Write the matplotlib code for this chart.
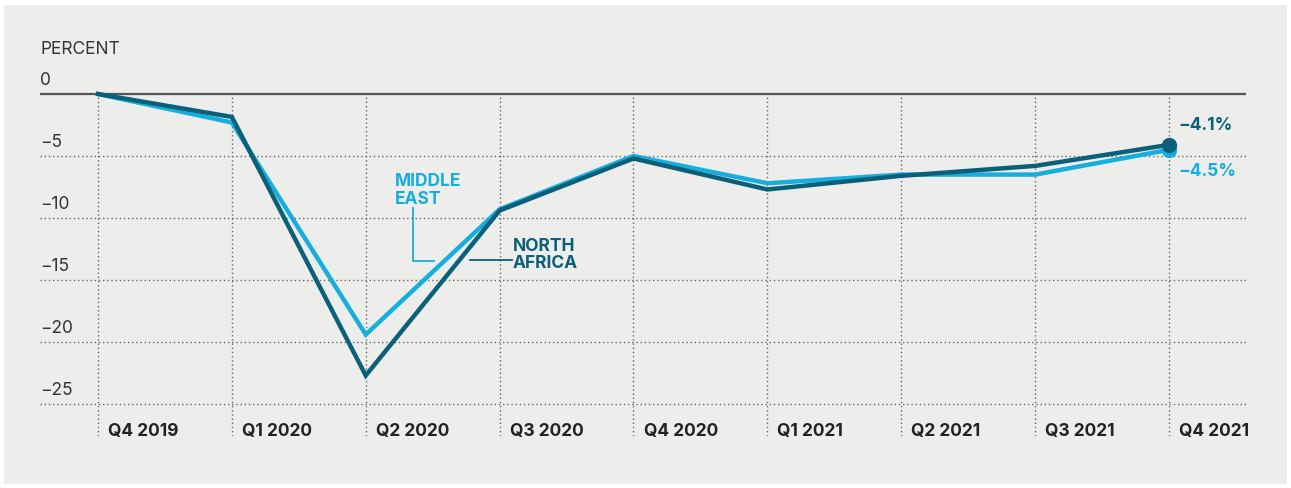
import matplotlib.pyplot as plt
from matplotlib.patches import Rectangle
from matplotlib.transforms import blended_transform_factory

plt.rcParams['font.family'] = ['Inter', 'DejaVu Sans']

# data
quarters = ['Q4 2019', 'Q1 2020', 'Q2 2020', 'Q3 2020', 'Q4 2020',
            'Q1 2021', 'Q2 2021', 'Q3 2021', 'Q4 2021']
north_africa = [0, -1.85, -22.7, -9.4, -5.2, -7.7, -6.6, -5.8, -4.1]
middle_east = [0, -2.3, -19.4, -9.3, -5.0, -7.2, -6.5, -6.5, -4.5]
yticks = [0, -5, -10, -15, -20, -25]

dark = '#0b6079'
light = '#16aede'
bg = '#ededeb'
grid_col = '#666666'

fig = plt.figure(figsize=(12.91, 4.89), dpi=100)
fig.patch.set_facecolor('white')
fig.patches.append(Rectangle((4 / 1291, 4 / 489), 1283 / 1291, 479 / 489,
                             transform=fig.transFigure, facecolor=bg,
                             edgecolor='none', zorder=-10))

# axes placed in pixel terms: left 40, right 1246, top 61, bottom 437
W, H = 1291, 489
ax = fig.add_axes([40 / W, 1 - 437 / H, 1206 / W, 376 / H])
ax.set_zorder(5)
ax.set_facecolor('none')
x = list(range(len(quarters)))
ax.set_xlim(-0.433, 8.575)
ax.set_ylim(-27.58, 2.74)
ax.axis('off')

# grid
for yt in yticks[1:]:
    ax.axhline(yt, color=grid_col, lw=1, ls=(0, (1, 2)), zorder=1)
ax.axhline(0, color='#555555', lw=1.6, zorder=1)
ax.vlines(x, -27.58, 0, color=grid_col, lw=1, ls=(0, (1, 2)), zorder=1)

# y labels
tr_y = blended_transform_factory(ax.transAxes, ax.transData)
for yt in yticks:
    ax.text(0, yt + 1.13, '0' if yt == 0 else '\u2212%d' % abs(yt),
            transform=tr_y, ha='left', va='center', fontsize=12.5,
            color='#333333')
ax.text(0, 3.7, 'PERCENT', transform=tr_y, ha='left', va='center',
        fontsize=12.5, color='#333333', clip_on=False)

# x labels
for xi, q in zip(x, quarters):
    ax.text(xi + 0.075, -27.1, q, ha='left', va='center', fontsize=12.5,
            fontweight='bold', color='#222222', clip_on=False)

# lines
ax.plot(x, middle_east, color=light, lw=3.2, zorder=3, clip_on=False,
        solid_joinstyle='miter')
ax.plot(x, north_africa, color=dark, lw=3.2, zorder=4, clip_on=False,
        solid_joinstyle='miter')
ax.plot(x[-1], middle_east[-1], 'o', color=light, ms=10, zorder=5)
ax.plot(x[-1], north_africa[-1], 'o', color=dark, ms=10, zorder=6)

# end labels
ax.text(x[-1] + 0.07, -2.5, '\u22124.1%', color=dark, fontsize=12.5,
        fontweight='bold', ha='left', va='center', clip_on=False)
ax.text(x[-1] + 0.07, -6.2, '\u22124.5%', color=light, fontsize=12.5,
        fontweight='bold', ha='left', va='center', clip_on=False)

# series labels with leaders
ax.text(2.22, -7.7, 'MIDDLE\nEAST', color=light, fontsize=12.5,
        fontweight='bold', ha='left', va='center', linespacing=1.05)
ax.plot([2.35, 2.35, 2.51], [-9.2, -13.5, -13.5], color=light, lw=1.3)
ax.text(3.1, -12.9, 'NORTH\nAFRICA', color=dark, fontsize=12.5,
        fontweight='bold', ha='left', va='center', linespacing=1.05)
ax.plot([2.78, 3.09], [-13.35, -13.35], color=dark, lw=1.3)

fig.savefig('out.png', dpi=100, facecolor=fig.get_facecolor())
